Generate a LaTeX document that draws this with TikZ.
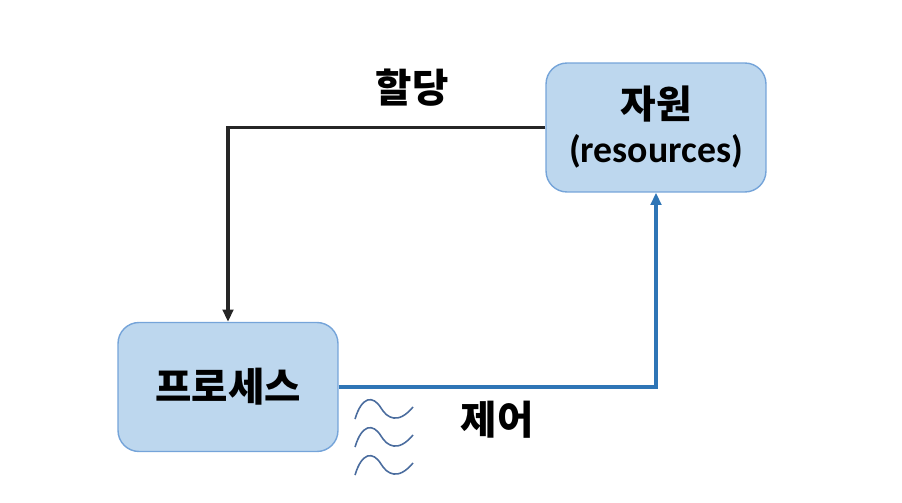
\documentclass[tikz,border=0pt]{standalone}
\usepackage{fontspec}
\setmainfont{Carlito}
\newfontfamily\kr{Noto Sans CJK KR}
\usetikzlibrary{arrows.meta}
\usepackage{xcolor}
\definecolor{boxfill}{HTML}{BDD7EE}
\definecolor{boxline}{HTML}{75A4D9}
\definecolor{ctrl}{HTML}{2E75B6}
\definecolor{wave}{HTML}{4A6C9E}

\begin{document}
\begin{tikzpicture}[x=0.02cm,y=-0.02cm,
  box/.style={draw=boxline, fill=boxfill, line width=0.8pt, rounded corners=0.42cm,
    minimum width=4.4cm, minimum height=2.58cm, align=center, inner sep=0pt},
  lbl/.style={font=\kr\bfseries\fontsize{22.5}{28}\selectfont},
  link/.style={line width=2pt, -{Triangle[width=6pt,length=7pt]}}]
\useasboundingbox (0,0) rectangle (902,503);
\node[box] (res) at (656,127.5) {{\kr\bfseries\fontsize{22}{28}\selectfont 자원}\\[6pt]
  {\bfseries\fontsize{21.5}{28}\selectfont (resources)}};
\node[box, lbl] (proc) at (228,387) {프로세스};

\draw[link, black!85] (res.west) -| (proc.north);
\draw[link, ctrl] (proc.east) -| (res.south);

\node[lbl] (alloc) at (412,88) {할당};
\node[lbl] (control) at (497,420) {제어};

% waves under the blue line
\foreach \dy in {0,28,56}
  \draw[wave, line width=0.9pt] (355,419+\dy) .. controls (362,396+\dy) and (373,395+\dy) .. (381,408+\dy)
    .. controls (387,418+\dy) and (398,425+\dy) .. (413,407+\dy);
\end{tikzpicture}
\end{document}
